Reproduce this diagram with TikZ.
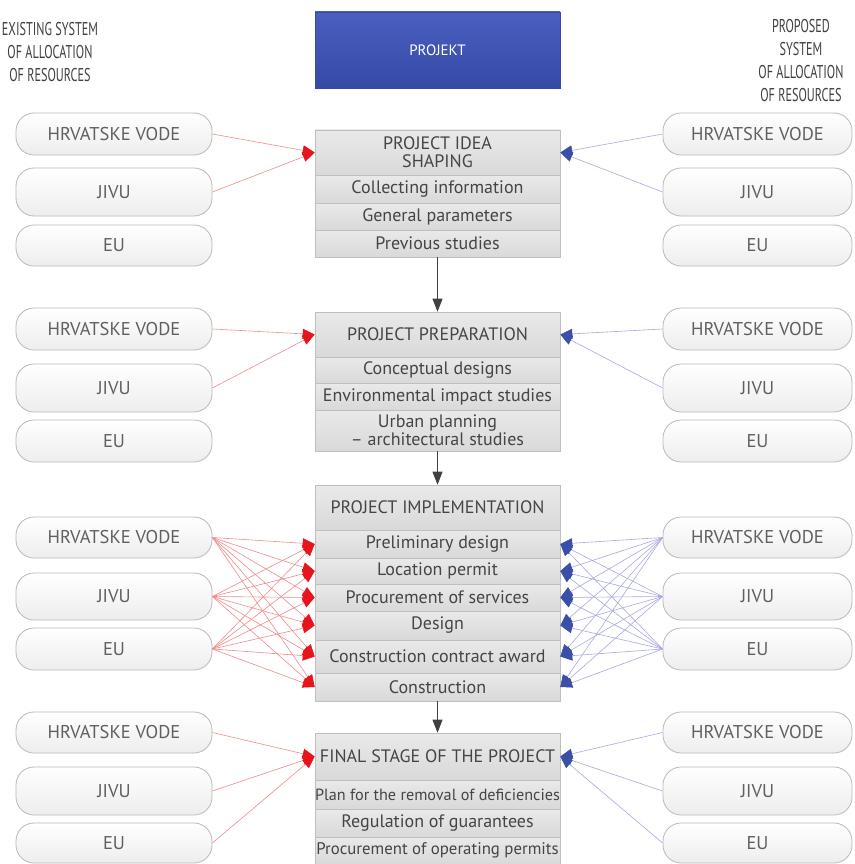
\documentclass[tikz,border=0pt]{standalone}
\usepackage{fontspec}
\setmainfont{PT Sans}
\newfontfamily\hdrfont[FakeStretch=0.66]{PT Sans}
\usetikzlibrary{arrows.meta}
\definecolor{redline}{HTML}{F08A8A}
\definecolor{redhead}{HTML}{E8141B}
\definecolor{blueline}{HTML}{A8A8E0}
\definecolor{bluehead}{HTML}{3A4FA6}
\definecolor{projtop}{HTML}{4A5FC0}
\definecolor{projbot}{HTML}{3649A6}
\definecolor{txtgray}{HTML}{454545}
\definecolor{ovaltxt}{HTML}{606060}
\definecolor{hdrtxt}{HTML}{404040}
\newcommand\rowbox[4]{\node[rowbox, minimum height={(#3-#2)*1pt}] (#1) at (437.5,{(#2+#3)/2}) {#4};}
\newcommand\ovalL[4]{\node[oval, minimum width=196pt, minimum height={(#3-#2)*1pt}] (#1) at (114,{(#2+#3)/2}) {#4};}
\newcommand\ovalR[4]{\node[oval, minimum width=189pt, minimum height={(#3-#2)*1pt}] (#1) at (757.5,{(#2+#3)/2}) {#4};}
\begin{document}
\begin{tikzpicture}[x=1pt,y=-1pt,
  oval/.style={draw=gray!55, rounded corners=18pt, top color=white, bottom color=gray!14, text=ovaltxt, font=\fontsize{18.5}{19}\selectfont, inner sep=0pt, line width=0.8pt},
  rowbox/.style={draw=gray!50, top color=gray!17, bottom color=gray!30, minimum width=245pt, text=txtgray, font=\fontsize{18}{18}\selectfont, inner sep=0pt, align=center, line width=0.6pt},
  redarr/.style={draw=redline, line width=0.6pt, -{Triangle[length=12pt,width=10pt,fill=redhead,color=redhead]}},
  bluearr/.style={draw=blueline, line width=0.6pt, -{Triangle[length=12pt,width=10pt,fill=bluehead,color=bluehead]}},
  blackarr/.style={draw=black!75, line width=0.8pt, -{Triangle[length=13pt,width=10pt]}},
  hdr/.style={align=center, text=hdrtxt, font=\hdrfont\fontsize{18.5}{23}\selectfont}
]
\useasboundingbox (0,0) rectangle (854,864);
% header
\node[hdr] (hl) at (50,52) {EXISTING SYSTEM\\OF ALLOCATION\\OF RESOURCES};
\node[hdr] (hr) at (801,61) {PROPOSED\\SYSTEM\\OF ALLOCATION\\OF RESOURCES};
\node[top color=projtop, bottom color=projbot, draw=projbot, minimum width=245pt, minimum height=76pt, text=white, font=\fontsize{15}{16}\selectfont] (proj) at (437.5,50) {PROJEKT};

% block 1
\rowbox{b1t}{130}{175}{PROJECT IDEA\\SHAPING}
\rowbox{b1a}{175}{203}{Collecting information}
\rowbox{b1b}{203}{230}{General parameters}
\rowbox{b1c}{230}{257}{Previous studies}
\ovalL{l1h}{113}{155}{HRVATSKE VODE}
\ovalL{l1j}{168}{216}{JIVU}
\ovalL{l1e}{225}{266}{EU}
\ovalR{r1h}{113}{155}{HRVATSKE VODE}
\ovalR{r1j}{168}{216}{JIVU}
\ovalR{r1e}{225}{266}{EU}

% block 2
\rowbox{b2t}{312}{357}{PROJECT PREPARATION}
\rowbox{b2a}{357}{383}{Conceptual designs}
\rowbox{b2b}{383}{410}{Environmental impact studies}
\rowbox{b2c}{410}{451}{Urban planning\\ -- architectural studies}
\ovalL{l2h}{308}{350}{HRVATSKE VODE}
\ovalL{l2j}{364}{412}{JIVU}
\ovalL{l2e}{420}{462}{EU}
\ovalR{r2h}{308}{350}{HRVATSKE VODE}
\ovalR{r2j}{364}{412}{JIVU}
\ovalR{r2e}{420}{462}{EU}

% block 3
\rowbox{b3t}{485}{530}{PROJECT IMPLEMENTATION}
\rowbox{b3a}{530}{558}{Preliminary design}
\rowbox{b3b}{558}{584}{Location permit}
\rowbox{b3c}{584}{611}{Procurement of services}
\rowbox{b3d}{611}{640}{Design}
\rowbox{b3e}{640}{673}{Construction contract award}
\rowbox{b3f}{673}{701}{Construction}
\ovalL{l3h}{517}{558}{HRVATSKE VODE}
\ovalL{l3j}{573}{620}{JIVU}
\ovalL{l3e}{628}{670}{EU}
\ovalR{r3h}{517}{558}{HRVATSKE VODE}
\ovalR{r3j}{573}{620}{JIVU}
\ovalR{r3e}{628}{670}{EU}

% block 4
\rowbox{b4t}{733}{780}{FINAL STAGE OF THE PROJECT}
\rowbox{b4a}{780}{809}{\fontsize{16.2}{17}\selectfont Plan for the removal of deficiencies}
\rowbox{b4b}{809}{837}{Regulation of guarantees}
\rowbox{b4c}{837}{864}{\fontsize{16.8}{17}\selectfont Procurement of operating permits}
\ovalL{l4h}{712}{753}{HRVATSKE VODE}
\ovalL{l4j}{767}{815}{JIVU}
\ovalL{l4e}{823}{863}{EU}
\ovalR{r4h}{712}{753}{HRVATSKE VODE}
\ovalR{r4j}{767}{815}{JIVU}
\ovalR{r4e}{823}{863}{EU}

% vertical arrows
\draw[blackarr] (b1c.south) -- (b2t.north);
\draw[blackarr] (b2c.south) -- (b3t.north);
\draw[blackarr] (b3f.south) -- (b4t.north);

% block 1 arrows
\foreach \s in {l1h,l1j} \draw[redarr] (\s.east) -- (b1t.west);
\foreach \s in {r1h,r1j} \draw[bluearr] (\s.west) -- (b1t.east);
% block 2 arrows
\foreach \s in {l2h,l2j} \draw[redarr] (\s.east) -- (b2t.west);
\foreach \s in {r2h,r2j} \draw[bluearr] (\s.west) -- (b2t.east);
% block 3 arrows
\foreach \s in {l3h,l3j,l3e} \foreach \t in {b3a,b3b,b3c,b3d,b3e,b3f} \draw[redarr] (\s.east) -- (\t.west);
\foreach \s in {r3h,r3j,r3e} \foreach \t in {b3a,b3b,b3c,b3d,b3e,b3f} \draw[bluearr] (\s.west) -- (\t.east);
% block 4 arrows
\foreach \s in {l4h,l4j,l4e} \draw[redarr] (\s.east) -- (b4t.west);
\foreach \s in {r4h,r4j,r4e} \draw[bluearr] (\s.west) -- (b4t.east);
\end{tikzpicture}
\end{document}
